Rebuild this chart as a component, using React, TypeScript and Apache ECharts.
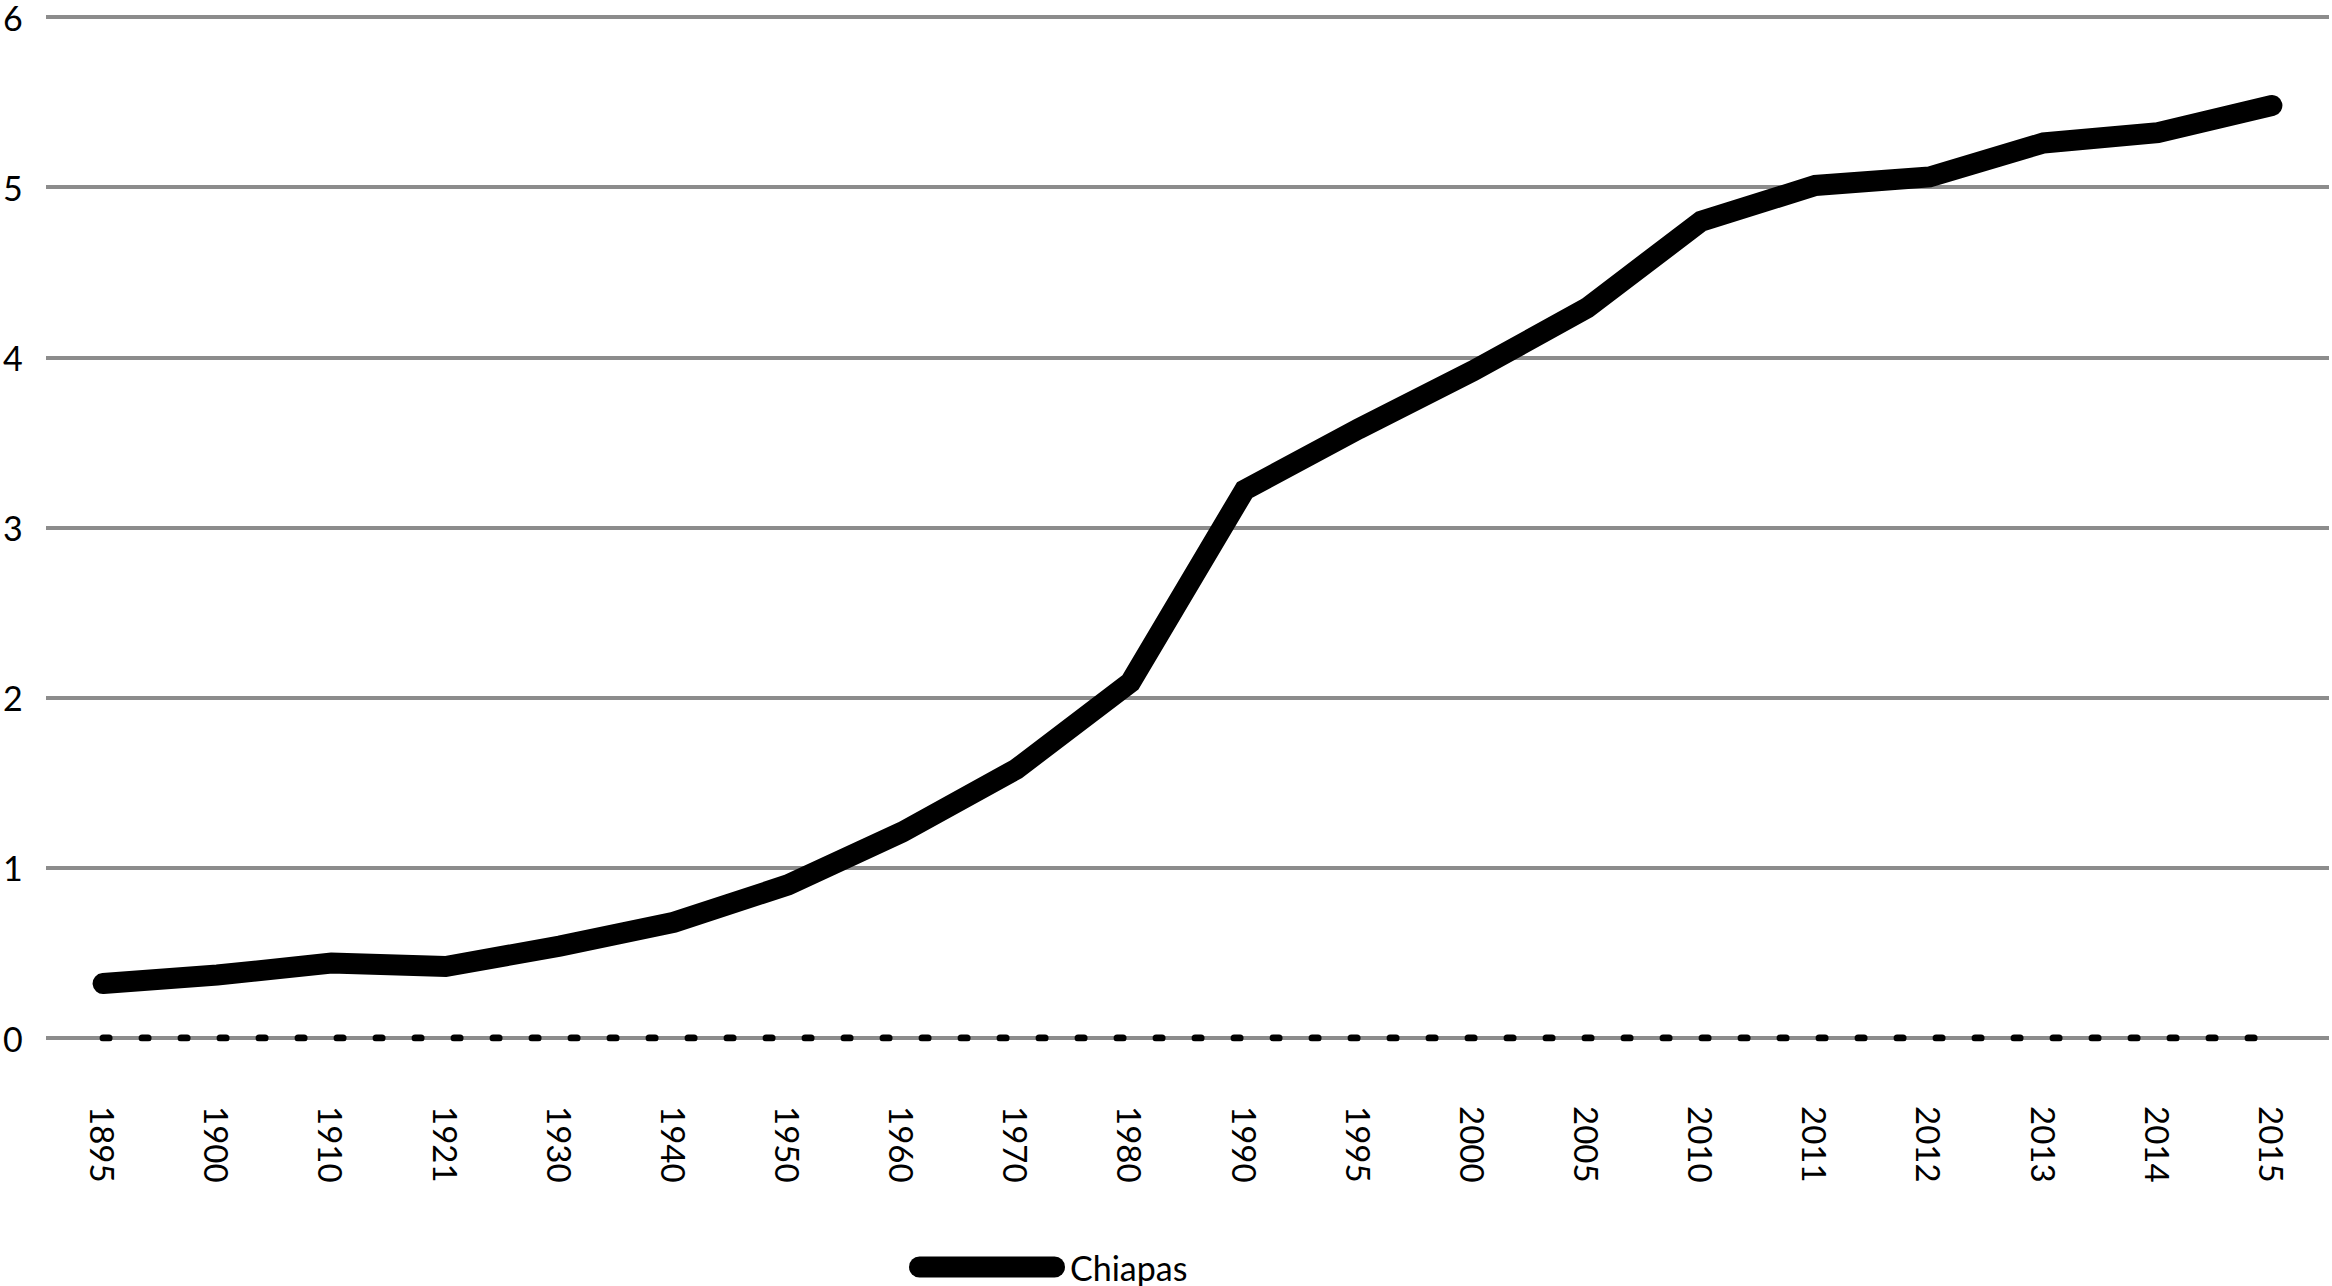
import React, { useEffect, useRef } from "react";
import * as echarts from "echarts";

const years = [
  "1895", "1900", "1910", "1921", "1930", "1940", "1950", "1960", "1970", "1980",
  "1990", "1995", "2000", "2005", "2010", "2011", "2012", "2013", "2014", "2015",
];
const chiapas = [
  0.32, 0.37, 0.44, 0.42, 0.54, 0.68, 0.9, 1.21, 1.58, 2.09,
  3.22, 3.58, 3.92, 4.29, 4.8, 5.01, 5.06, 5.26, 5.32, 5.48,
];
const baseline = [0, 0, 0, 0, 0, 0, 0, 0, 0, 0, 0, 0, 0, 0, 0, 0, 0, 0, 0, 0];
const seriesName = "Chiapas";

export default function App() {
  const ref = useRef<HTMLDivElement>(null);
  useEffect(() => {
    if (!ref.current) return;
    const chart = echarts.init(ref.current, undefined, { renderer: "svg" });
    const font = "Lato, 'Open Sans', sans-serif";
    chart.setOption({
      animation: false,
      backgroundColor: "#fff",
      grid: { left: 45, right: 3, top: 9, bottom: 248, containLabel: false },
      legend: {
        data: [seriesName],
        left: 909,
        top: 1250,
        padding: 0,
        itemWidth: 156,
        itemHeight: 21,
        icon: "path://M10.5,0 L145.5,0 A10.5,10.5 0 0 1 145.5,21 L10.5,21 A10.5,10.5 0 0 1 10.5,0 Z",
        itemStyle: { color: "#000" },
        textStyle: { color: "#000", fontSize: 34, fontFamily: font },
      },
      xAxis: {
        type: "category",
        data: years,
        boundaryGap: true,
        axisLine: { show: false },
        axisTick: { show: false },
        splitLine: { show: false },
        axisLabel: {
          interval: 0,
          rotate: -90,
          margin: 68,
          color: "#000",
          fontSize: 33,
          fontFamily: font,
        },
      },
      yAxis: {
        type: "value",
        min: 0,
        max: 6,
        interval: 1,
        axisLine: { show: false },
        axisTick: { show: false },
        splitLine: { show: true, lineStyle: { color: "#8c8c8c", width: 4 } },
        axisLabel: {
          color: "#000",
          fontSize: 34,
          fontFamily: font,
          align: "left",
          margin: 43,
          padding: [10, 0, 0, 0],
        },
      },
      series: [
        {
          name: "zero",
          type: "line",
          data: baseline,
          symbol: "none",
          silent: true,
          lineStyle: { color: "#000", width: 7, type: [6, 33], cap: "round" },
          z: 2,
        },
        {
          name: seriesName,
          type: "line",
          data: chiapas,
          symbol: "none",
          lineStyle: { color: "#000", width: 21, cap: "round", join: "miter" },
          itemStyle: { color: "#000" },
          z: 3,
        },
      ],
    });
    return () => chart.dispose();
  }, []);
  return (
    <div
      ref={ref}
      style={{ position: "absolute", left: 0, top: 0, width: 2332, height: 1286 }}
    />
  );
}
